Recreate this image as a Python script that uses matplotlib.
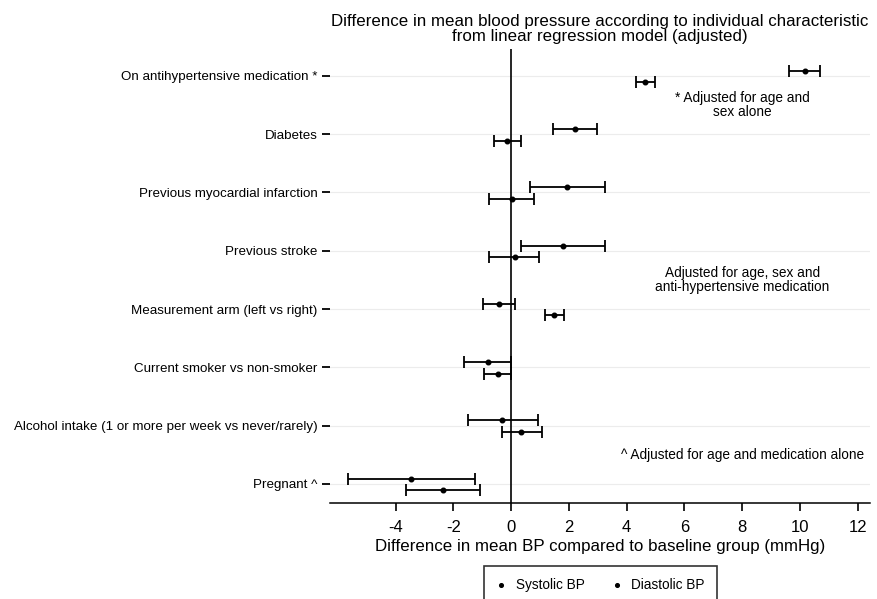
import numpy as np
import matplotlib
matplotlib.use("Agg")
import matplotlib.pyplot as plt

plt.rcParams['font.family'] = ['Liberation Sans', 'DejaVu Sans']

categories = ["On antihypertensive medication *", "Diabetes",
              "Previous myocardial infarction", "Previous stroke",
              "Measurement arm (left vs right)", "Current smoker vs non-smoker",
              "Alcohol intake (1 or more per week vs never/rarely)", "Pregnant ^"]

sys_est = [10.19, 2.20, 1.93, 1.80, -0.41, -0.80, -0.31, -3.46]
sys_lo = [9.63, 1.44, 0.67, 0.36, -0.97, -1.62, -1.48, -5.66]
sys_hi = [10.70, 2.99, 3.25, 3.25, 0.12, -0.01, 0.93, -1.24]

dia_est = [4.65, -0.13, 0.02, 0.13, 1.49, -0.44, 0.35, -2.36]
dia_lo = [4.34, -0.60, -0.75, -0.75, 1.17, -0.94, -0.33, -3.65]
dia_hi = [4.98, 0.35, 0.81, 0.98, 1.82, -0.01, 1.08, -1.08]

xticks = [-4, -2, 0, 2, 4, 6, 8, 10, 12]

fig = plt.figure(figsize=(8.78, 5.99), dpi=100)
ax = fig.add_axes([0.3759, 0.1598, 0.615, 0.7576])

y = np.arange(len(categories))

for yy in y:
    ax.axhline(yy, color='#ececec', lw=0.8, zorder=0)
ax.axvline(0, color='black', lw=1.2, zorder=1)

def draw(est, lo, hi, off, label):
    est = np.array(est)
    err = [est - np.array(lo), np.array(hi) - est]
    ax.errorbar(est, y + off, xerr=err, fmt='o', color='black', ms=3.3,
                elinewidth=1.3, capsize=4, capthick=1.3, label=label, zorder=3)

draw(sys_est, sys_lo, sys_hi, -0.09, "Systolic BP")
draw(dia_est, dia_lo, dia_hi, 0.11, "Diastolic BP")

ax.set_xlim(-6.27, 12.43)
ax.set_ylim(7.335, -0.455)
ax.set_yticks(y)
ax.set_yticklabels(categories, fontsize=9.6)
ax.set_xticks(xticks)
ax.set_xticklabels([str(t) for t in xticks], fontsize=12)
ax.tick_params(axis='y', length=6, width=1.3, pad=3)
ax.tick_params(axis='x', length=6, width=1.2, pad=6)
for s in ['left', 'right', 'top']:
    ax.spines[s].set_visible(False)
ax.spines['bottom'].set_linewidth(1.1)

ax.set_xlabel("Difference in mean BP compared to baseline group (mmHg)", fontsize=12.2, labelpad=3)
ax.set_title("Difference in mean blood pressure according to individual characteristic\n"
             "from linear regression model (adjusted)", fontsize=12.2, pad=6, linespacing=1.05)

ax.text(8.0, 0.5, "* Adjusted for age and\nsex alone", ha='center', va='center',
        fontsize=9.8, linespacing=1.05)
ax.text(8.0, 3.5, "Adjusted for age, sex and\nanti-hypertensive medication", ha='center',
        va='center', fontsize=9.8, linespacing=1.05)
ax.text(8.0, 6.5, "^ Adjusted for age and medication alone", ha='center', va='center',
        fontsize=9.8)

handles, labels = ax.get_legend_handles_labels()
handles = [h[0] for h in handles]
leg = fig.legend(handles, labels, loc='upper center', bbox_to_anchor=(0.684, 0.055),
                 ncol=2, fontsize=9.8, frameon=True, fancybox=False, edgecolor='black',
                 handlelength=0.7, handletextpad=0.7, columnspacing=2.0, borderpad=0.9,
                 borderaxespad=0, markerscale=0.8)
leg.get_frame().set_linewidth(1.2)

fig.savefig("out.png", dpi=100)
